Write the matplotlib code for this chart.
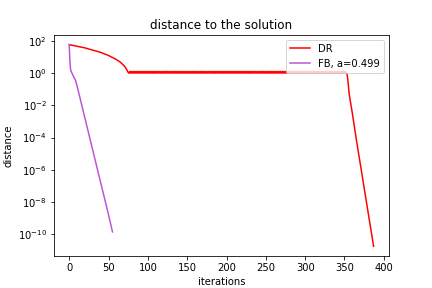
import matplotlib
matplotlib.use("Agg")
import numpy as np
import matplotlib.pyplot as plt

# ── DR: smooth decay, long zig-zag plateau near 1, then fast linear drop ──
dr_decay_it = [0, 10, 20, 30, 40, 50, 60, 65, 70, 73, 75]
dr_decay = [59, 47, 37, 27, 19.5, 12.5, 7.0, 4.8, 2.8, 1.7, 1.1]

dr_plateau_start = 76
dr_plateau_pair = [1.0, 1.28]      # alternates every iteration
dr_plateau_len = 277

dr_tail_it = [353, 354, 355, 356, 360, 365, 370, 375, 380, 385, 387]
dr_tail = [1.0, 5e-1, 1.6e-1, 5e-2, 3.2e-3, 8e-5, 2.5e-6, 8e-8,
           2.5e-9, 8e-11, 1.8e-11]

# ── FB, a=0.499 ──
fb_it = [0, 1, 2, 4, 6, 8, 10, 20, 30, 40, 50, 55]
fb = [59, 4.0, 1.4, 0.9, 0.55, 0.36, 0.16, 1.6e-3, 1.6e-5, 1.6e-7,
      1.6e-9, 1.4e-10]

plateau = (dr_plateau_pair * dr_plateau_len)[:dr_plateau_len]
plateau_it = list(range(dr_plateau_start, dr_plateau_start + dr_plateau_len))

dr_it = dr_decay_it + plateau_it + dr_tail_it
dr = dr_decay + plateau + dr_tail

fig, ax = plt.subplots(figsize=(6, 4), dpi=72)
ax.plot(dr_it, dr, color="red", label="DR")
ax.plot(fb_it, fb, color="mediumorchid", label="FB, a=0.499")
ax.set_yscale("log")
ax.set_title("distance to the solution")
ax.set_xlabel("iterations")
ax.set_ylabel("distance")
ax.legend(loc="upper right")

plt.savefig("out.png", dpi=72)
